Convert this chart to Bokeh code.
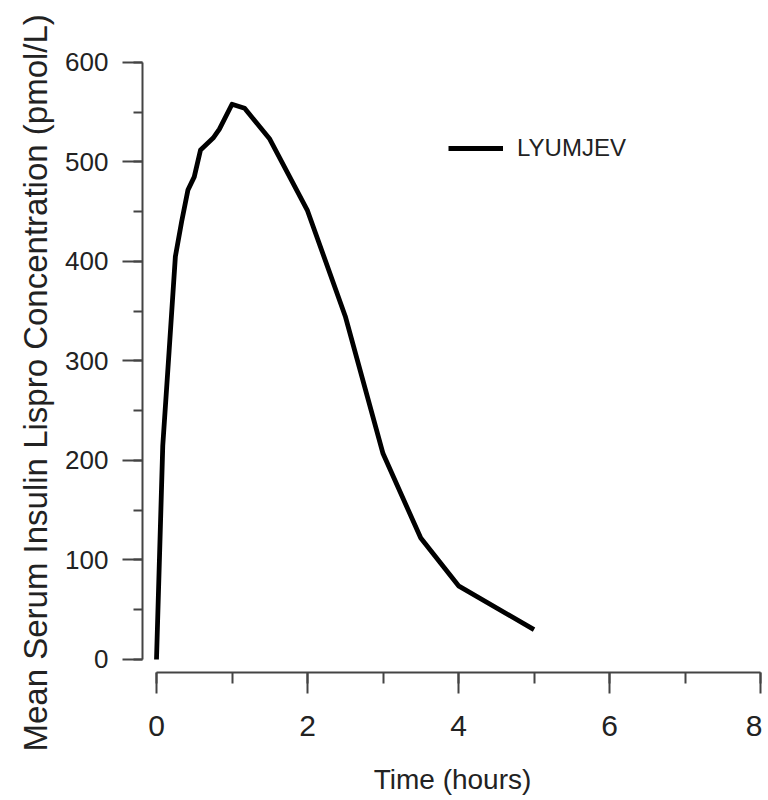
from bokeh.plotting import figure
from bokeh.models import Range1d, SingleIntervalTicker, Title, Legend, LegendItem
from bokeh.embed import file_html
from bokeh.resources import INLINE

# Data
time_h = [0, 0.083, 0.167, 0.25, 0.333, 0.417, 0.5, 0.583, 0.75, 0.833,
          1.0, 1.167, 1.5, 2.0, 2.5, 3.0, 3.5, 4.0, 5.0]
conc = [0, 215, 310, 405, 440, 472, 485, 512, 524, 533,
        558, 554, 523, 451, 345, 207, 122, 74, 30]
series_name = "LYUMJEV"
x_label = "Time (hours)"
y_label = "Mean Serum Insulin Lispro Concentration (pmol/L)"

FONT = "Liberation Sans"

p = figure(frame_width=620, frame_height=614,
           x_range=Range1d(-0.1854, 8.026), y_range=Range1d(-13.07, 604.0),
           output_backend="svg", toolbar_location=None,
           min_border_left=142, min_border_right=0,
           min_border_top=58, min_border_bottom=120)
p.grid.visible = False
p.outline_line_color = None
p.background_fill_color = "white"
p.border_fill_color = "white"

r = p.line(time_h, conc, line_color="black", line_width=4.8, line_join="round")

ax = p.xaxis[0]
ax.ticker = SingleIntervalTicker(interval=2, num_minor_ticks=2)
ax.bounds = (0, 8)
ax.axis_line_color = "#444444"
ax.axis_line_width = 2
ax.major_tick_line_color = "#444444"
ax.major_tick_line_width = 2
ax.minor_tick_line_color = "#444444"
ax.minor_tick_line_width = 2
ax.major_tick_out = 21
ax.major_tick_in = 0
ax.minor_tick_out = 11
ax.minor_tick_in = 0
ax.major_label_text_font = FONT
ax.major_label_text_font_size = "30px"
ax.major_label_text_color = "#222222"
ax.major_label_standoff = 22
ax.axis_label = x_label
ax.axis_label_text_font = FONT
ax.axis_label_text_font_size = "28px"
ax.axis_label_text_font_style = "normal"
ax.axis_label_text_color = "#222222"
ax.axis_label_standoff = 25

ay = p.yaxis[0]
ay.ticker = SingleIntervalTicker(interval=100, num_minor_ticks=2)
ay.bounds = (0, 600)
ay.axis_line_color = "#444444"
ay.axis_line_width = 2
ay.major_tick_line_color = "#444444"
ay.major_tick_line_width = 2
ay.minor_tick_line_color = "#444444"
ay.minor_tick_line_width = 2
ay.major_tick_out = 20
ay.major_tick_in = 0
ay.minor_tick_out = 9
ay.minor_tick_in = 0
ay.major_label_text_font = FONT
ay.major_label_text_font_size = "26px"
ay.major_label_text_color = "#222222"
ay.major_label_standoff = 14

ytitle = Title(text=y_label, align="left", offset=-79,
               text_font=FONT, text_font_size="33px", text_font_style="normal",
               text_color="#222222", standoff=18)
p.add_layout(ytitle, "left")

legend = Legend(items=[LegendItem(label=series_name, renderers=[r])],
                location=(306, 509), orientation="vertical")
legend.border_line_color = None
legend.background_fill_alpha = 0
legend.padding = 0
legend.margin = 0
legend.glyph_width = 55
legend.glyph_height = 30
legend.label_standoff = 14
legend.label_text_font = FONT
legend.label_text_font_size = "24px"
legend.label_text_color = "#222222"
legend.label_height = 30
p.add_layout(legend)

open("out.html", "w").write(file_html(p, INLINE))
